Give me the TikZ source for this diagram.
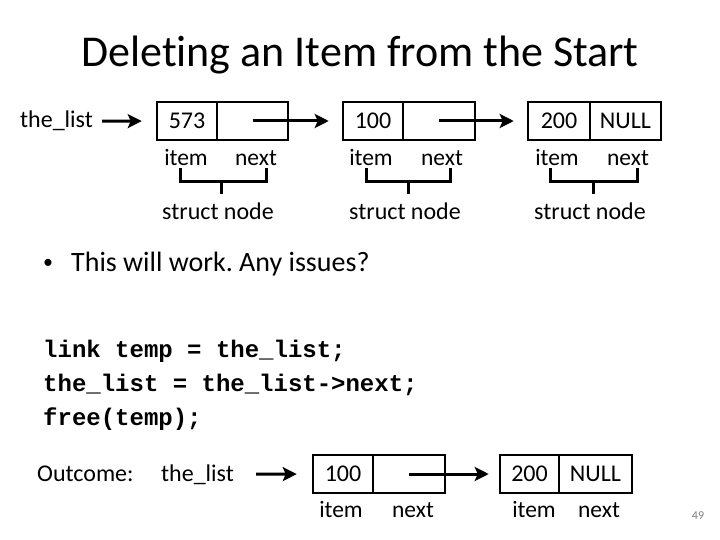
\documentclass[tikz,border=0pt]{standalone}
\usepackage{fontspec}
\setmainfont[Ligatures={NoCommon}]{Carlito}
\newfontfamily\codefont{Liberation Mono}
\usetikzlibrary{arrows.meta}
\frenchspacing
\begin{document}
\begin{tikzpicture}[x=1pt,y=-1pt,
 cell/.style={draw, line width=2.5pt, minimum height=38pt, inner sep=0pt, font=\fontsize{24}{28}\selectfont},
 lbl/.style={font=\fontsize{23.5}{28}\selectfont, inner sep=0pt, anchor=base},
 lblw/.style={font=\fontsize{24}{28}\selectfont, inner sep=0pt, anchor=base west},
 code/.style={font=\codefont\bfseries\fontsize{24}{28}\selectfont, inner sep=0pt, anchor=base west},
 arr/.style={line width=3pt, -{Stealth[length=14pt,width=14pt,inset=3pt]}},
 bracepath/.style={line width=3pt},
]
\useasboundingbox (0,0) rectangle (720,540);

% title
\node[font=\fontsize{44}{50}\selectfont, inner sep=0pt, anchor=base] (title) at (360,67) {Deleting an Item from the Start};

% top list
\node[lblw] (tl) at (20,128) {the\_list};
\node[cell, minimum width=60pt] (c1a) at (187,121) {573};
\node[cell, minimum width=71pt] (c1b) at (252.5,121) {};
\node[cell, minimum width=60pt] (c2a) at (373,121) {100};
\node[cell, minimum width=72pt] (c2b) at (439,121) {};
\node[cell, minimum width=62pt] (c3a) at (559,121) {200};
\node[cell, minimum width=71pt] (c3b) at (625.5,121) {NULL};

\draw[arr, shorten <=9pt, shorten >=14pt] (tl.east) -- (c1a.west);
\draw[arr, shorten >=13pt] (c1b.center) -- (c2a.west);
\draw[arr, shorten >=13pt] (c2b.center) -- (c3a.west);

\node[lbl] (i1) at (186,166) {item};
\node[lbl] (n1) at (256,166) {next};
\node[lbl] (i2) at (371,166) {item};
\node[lbl] (n2) at (442,166) {next};
\node[lbl] (i3) at (557,166) {item};
\node[lbl] (n3) at (628,166) {next};

\draw[bracepath] (180,168) -- (180,182) -- (266,182) -- (266,168);
\draw[bracepath] (221,182) -- (221,194);
\draw[bracepath] (366,168) -- (366,182) -- (450,182) -- (450,168);
\draw[bracepath] (408,182) -- (408,194);
\draw[bracepath] (550,168) -- (550,182) -- (637,182) -- (637,168);
\draw[bracepath] (593,182) -- (593,194);

\node[lbl, font=\fontsize{24}{28}\selectfont] (s1) at (218,220) {struct node};
\node[lbl, font=\fontsize{24}{28}\selectfont] (s2) at (405,220) {struct node};
\node[lbl, font=\fontsize{24}{28}\selectfont] (s3) at (590,220) {struct node};

% bullet
\node[font=\fontsize{20}{24}\selectfont, inner sep=0pt, anchor=base] (bul) at (48,268) {•};
\node[font=\fontsize{28}{32}\selectfont, inner sep=0pt, anchor=base west] (q) at (71,271) {This will work. Any issues?};

% code
\node[code] (l1) at (43,357) {link temp = the\_list;};
\node[code] (l2) at (43,391) {the\_list = the\_list->next;};
\node[code] (l3) at (43,425) {free(temp);};

% outcome
\node[lblw] (out) at (37,481) {Outcome:};
\node[lblw] (tl2) at (161,481) {the\_list};
\node[cell, minimum width=60pt] (c4a) at (343,474) {100};
\node[cell, minimum width=72pt] (c4b) at (409,474) {};
\node[cell, minimum width=59pt] (c5a) at (529.5,474) {200};
\node[cell, minimum width=73pt] (c5b) at (595.5,474) {NULL};

\draw[arr, shorten <=22pt, shorten >=15pt] (tl2.east) -- (c4a.west);
\draw[arr, shorten >=10pt] (c4b.center) -- (c5a.west);

\node[lbl] (i4) at (341,517) {item};
\node[lbl] (n4) at (413,517) {next};
\node[lbl] (i5) at (534,517) {item};
\node[lbl] (n5) at (599,517) {next};

\node[font=\fontsize{12}{14}\selectfont, text=gray, inner sep=0pt] (pg) at (698,516) {49};
\end{tikzpicture}
\end{document}
